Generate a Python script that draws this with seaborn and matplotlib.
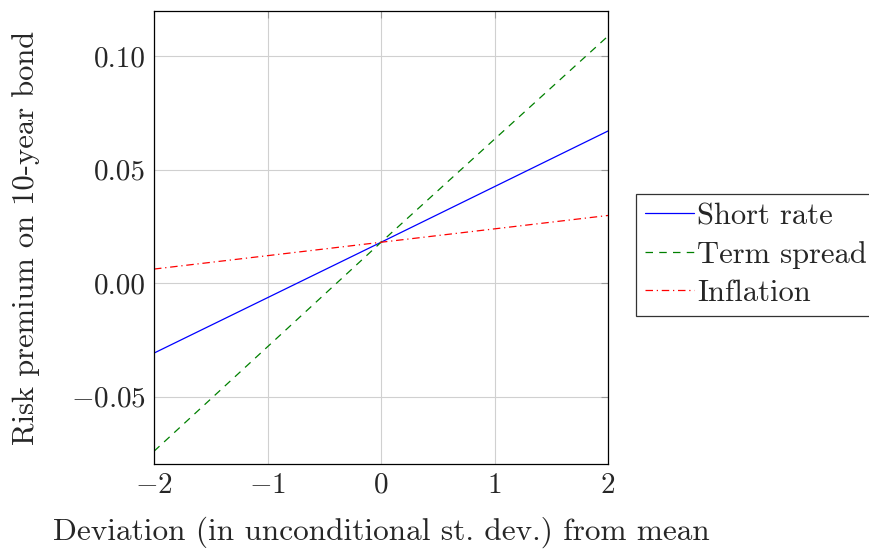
import numpy as np
import pandas as pd
import seaborn as sns
import matplotlib.pyplot as plt

# values
x_dev = [-2, -1, 0, 1, 2]
short_rate = [-0.0308, -0.0064, 0.0180, 0.0425, 0.0670]
term_spread = [-0.0740, -0.0280, 0.0180, 0.0634, 0.1088]
inflation = [0.0062, 0.0121, 0.0180, 0.0239, 0.0298]
series_names = ['Short rate', 'Term spread', 'Inflation']

df = pd.DataFrame({
    'x': x_dev * 3,
    'y': short_rate + term_spread + inflation,
    'series': [n for n in series_names for _ in x_dev],
})

sns.set_style('white')
plt.rcParams['font.family'] = 'serif'
plt.rcParams['font.serif'] = ['cmr10', 'DejaVu Serif']
plt.rcParams['axes.formatter.use_mathtext'] = True
plt.rcParams['mathtext.fontset'] = 'cm'

fig = plt.figure(figsize=(8.7, 5.5), dpi=100)
ax = fig.add_axes([0.177, 0.156, 0.522, 0.824])

palette = {'Short rate': '#0000ff', 'Term spread': '#008000', 'Inflation': '#ff0000'}
dashes = {'Short rate': '', 'Term spread': (6, 5), 'Inflation': (6, 3, 1, 3)}
sns.lineplot(data=df, x='x', y='y', hue='series', style='series',
             palette=palette, dashes=dashes, linewidth=0.9, ax=ax)

ax.set_xlim(-2, 2)
ax.set_ylim(-0.0797, 0.1198)
ax.set_xticks([-2, -1, 0, 1, 2])
ax.set_yticks([-0.05, 0.0, 0.05, 0.10])
ax.set_yticklabels(['$-0.05$', '0.00', '0.05', '0.10'])
ax.set_xticklabels(['$-2$', '$-1$', '0', '1', '2'])
ax.grid(True, color='#d0d0d0', linewidth=0.8)
ax.tick_params(direction='in', length=5, color='#999999', top=True, right=True,
               labelsize=21, pad=6)
for s in ax.spines.values():
    s.set_color('black')
    s.set_linewidth(0.9)

ax.set_xlabel('Deviation (in unconditional st. dev.) from mean', fontsize=22.5, labelpad=13)
ax.set_ylabel('Risk premium on 10-year bond', fontsize=22, labelpad=22)

leg = ax.legend(loc='center left', bbox_to_anchor=(1.062, 0.462), fontsize=22,
                frameon=True, fancybox=False, edgecolor='black', handlelength=1.6,
                handletextpad=0.1, borderpad=0.3, labelspacing=0.35, borderaxespad=0)
leg.get_frame().set_linewidth(0.9)

fig.savefig('out.png', dpi=100)
